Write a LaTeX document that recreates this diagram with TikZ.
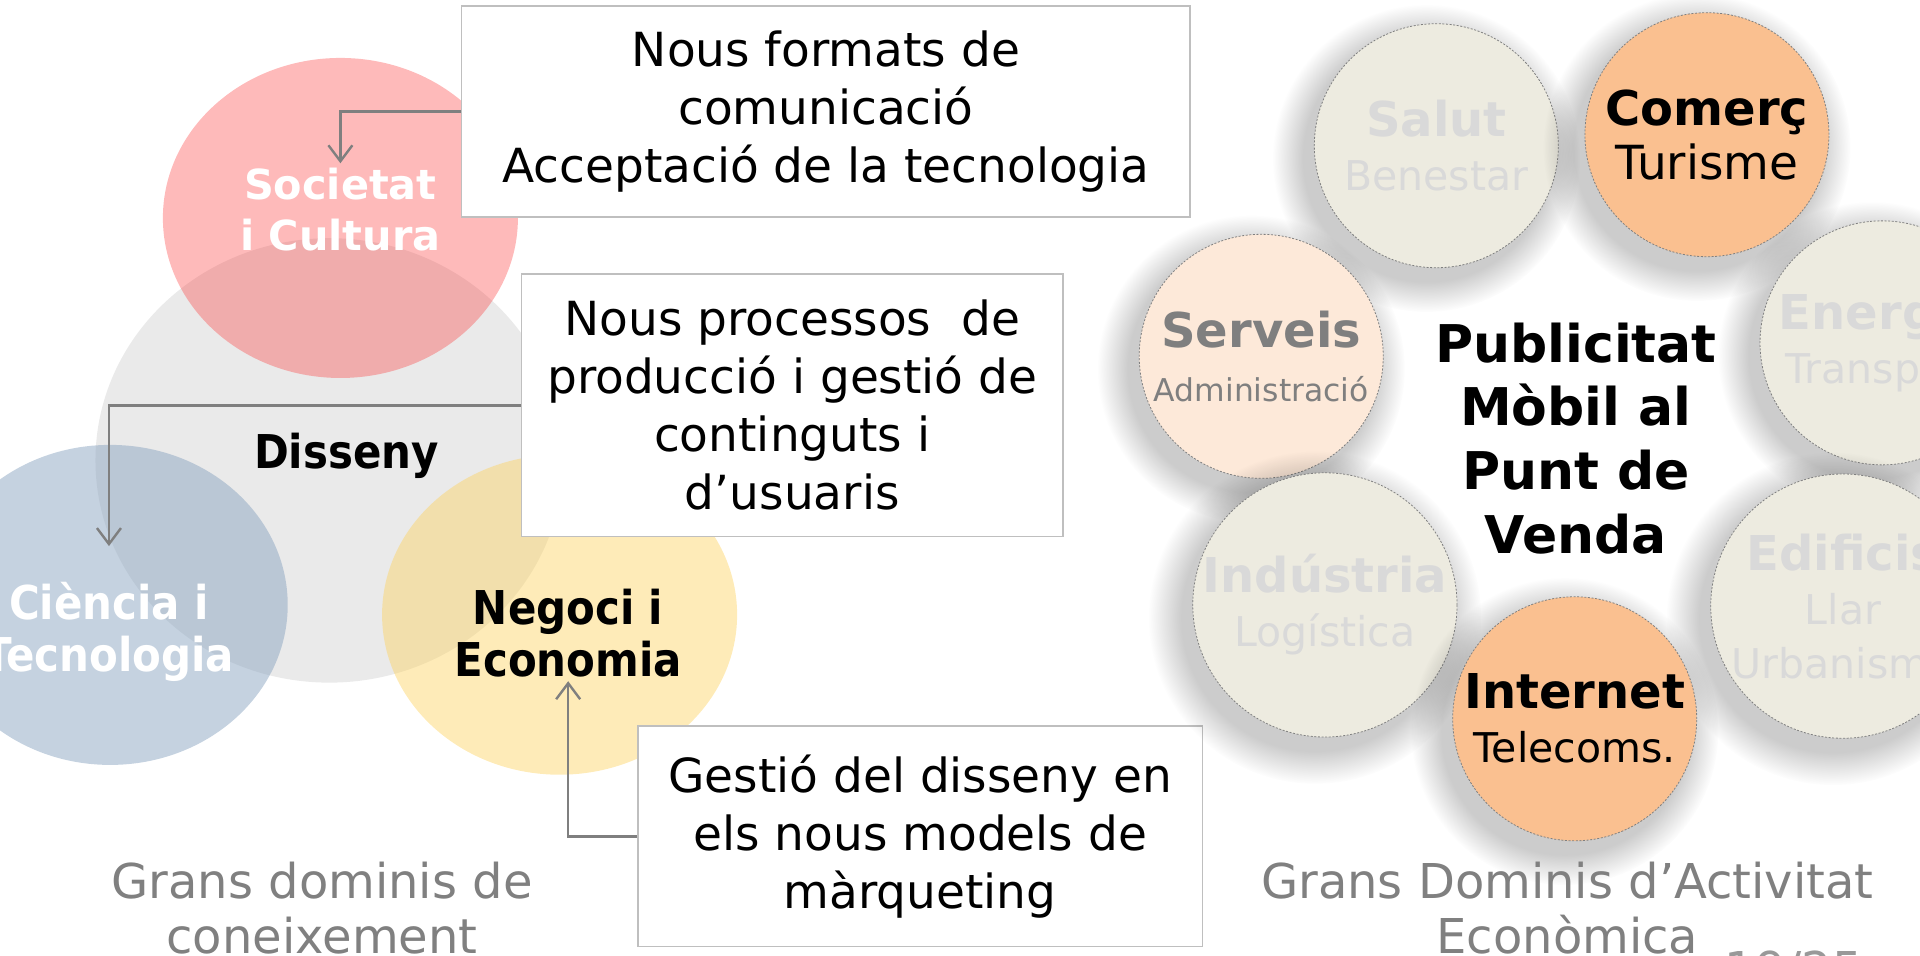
\documentclass[tikz,border=0pt]{standalone}
\usepackage{fontspec}
\setmainfont{DejaVu Sans}
\newfontfamily\condfont{DejaVu Sans Condensed}
\usetikzlibrary{shapes.geometric, arrows.meta, positioning, shadows, fadings}

\definecolor{socpink}{RGB}{252,58,58}
\definecolor{disgrey}{HTML}{EAEAEA}
\definecolor{cienblue}{RGB}{139,165,193}
\definecolor{negyellow}{RGB}{253,211,98}
\definecolor{boxline}{HTML}{BFBFBF}
\definecolor{arrowgrey}{HTML}{7F7F7F}
\definecolor{titlegrey}{HTML}{808080}
\definecolor{pagegrey}{HTML}{999999}
\definecolor{sectorfill}{HTML}{EDEBE0}
\definecolor{sectortext}{HTML}{D9D9D9}
\definecolor{activeorange}{HTML}{FAC090}
\definecolor{servpeach}{HTML}{FDE9D9}
\definecolor{servtext}{HTML}{7F7F7F}

\begin{document}
\begin{tikzpicture}[x=0.6122pt, y=-0.6122pt]
    % Define styles
    \tikzset{
        knowledge/.style={
            ellipse,
            minimum width=177.5pt,
            minimum height=160pt,
            inner sep=0pt
        },
        knowledge label/.style={
            align=center,
            inner sep=2pt,
            font=\condfont\bfseries\fontsize{23.3pt}{25.7pt}\selectfont
        },
        note box/.style={
            rectangle,
            draw=boxline,
            line width=0.8pt,
            fill=white,
            align=center,
            inner sep=0pt,
            font=\fontsize{23.5pt}{29pt}\selectfont
        },
        pointer/.style={draw=arrowgrey, line width=1.2pt, -{Straight Barb[length=8pt, width=12pt]}},
        sector/.style={
            circle,
            minimum size=122pt,
            inner sep=0pt,
            fill=sectorfill,
            draw=gray,
            line width=0.4pt,
            dash pattern=on 1pt off 0.8pt,
            align=center,
            text=sectortext,
            font=\fontsize{20.5pt}{27pt}\selectfont,
            circular drop shadow={shadow xshift=-4pt, shadow yshift=-5pt, shadow scale=1.26,
                opacity=0.2, fill=black, path fading=circle with fuzzy edge 20 percent}
        },
        active sector/.style={sector, fill=activeorange, text=black},
        title text/.style={align=center, text=titlegrey, font=\fontsize{24pt}{27.5pt}\selectfont}
    }

    \useasboundingbox (0,0) rectangle (1568,780);

    % Knowledge domains
    \node[knowledge, fill=disgrey, minimum width=233.9pt, minimum height=222.2pt] (dis) at (269,376) {};
    \node[knowledge, fill=socpink, fill opacity=0.35] (soc) at (278,178) {};
    \node[knowledge, fill=cienblue, fill opacity=0.5] (cien) at (90,494) {};
    \node[knowledge, fill=negyellow, fill opacity=0.45] (neg) at (457,502) {};

    \node[align=center, inner sep=2pt, text=white, font=\bfseries\fontsize{20.7pt}{25.7pt}\selectfont]
        (soclabel) at (278,171) {Societat\\i Cultura};
    \node[knowledge label] (dislabel) at (283,372) {Disseny};
    \node[knowledge label, text=white] (cienlabel) at (89,516) {Ciència i\\Tecnologia};
    \node[knowledge label] (neglabel) at (464,517) {Negoci i\\Economia};

    % Notes
    \node[note box, minimum width=364.3pt, minimum height=105.3pt] (nous) at (674.5,91)
        {Nous formats de\\comunicació\\Acceptació de la tecnologia};
    \node[note box, minimum width=270.6pt, minimum height=131pt] (proc) at (647,331)
        {Nous processos\ \ de\\producció i gestió de\\continguts i\\d’usuaris};
    \node[note box, minimum width=282.2pt, minimum height=110.2pt] (gestio) at (751.5,683)
        {Gestió del disseny en\\els nous models de\\màrqueting};

    \draw[pointer] (nous.west) -| (soclabel.north);
    \draw[pointer] (proc.west) -| ([yshift=16pt]cienlabel.north);
    \draw[pointer] (gestio.west) -| (neglabel.south);

    % Economic activity domains
    \node[sector] (salut) at (1173,119) {\textbf{\fontsize{24pt}{27pt}\selectfont Salut}\\Benestar};
    \node[active sector] (comerc) at (1394,110)
        {\textbf{\fontsize{24pt}{29pt}\selectfont Comerç}\\\fontsize{23.5pt}{29pt}\selectfont Turisme};
    \node[sector] (energia) at (1537,280) {\textbf{\fontsize{24pt}{27pt}\selectfont Energia}\\Transport};
    \node[sector, fill=servpeach, text=servtext] (serveis) at (1030,291)
        {\textbf{\fontsize{24pt}{23pt}\selectfont Serveis}\\\fontsize{15.7pt}{23pt}\selectfont Administració};
    \node[sector, minimum size=128pt] (industria) at (1082,494)
        {\textbf{\fontsize{24pt}{27pt}\selectfont Indústria}\\Logística};
    \node[sector] (edificis) at (1505,495)
        {\textbf{\fontsize{24pt}{24pt}\selectfont Edificis}\\\fontsize{20.5pt}{24pt}\selectfont Llar\\Urbanisme};
    \node[active sector] (internet) at (1286,587)
        {\textbf{\fontsize{24pt}{26pt}\selectfont Internet}\\\fontsize{20.5pt}{26pt}\selectfont Telecoms.};

    \node[align=center, font=\bfseries\fontsize{26pt}{31.8pt}\selectfont] (publi) at (1287,358)
        {Publicitat\\Mòbil al\\Punt de\\Venda};

    % Titles
    \node[title text] (coneix) at (263,742) {Grans dominis de\\coneixement};
    \node[title text] (activ) at (1280,742) {Grans Dominis d’Activitat\\Econòmica};
    \node[anchor=base, text=pagegrey, font=\fontsize{24pt}{27pt}\selectfont] (pagina) at (1465,806) {19/25};
\end{tikzpicture}
\end{document}
